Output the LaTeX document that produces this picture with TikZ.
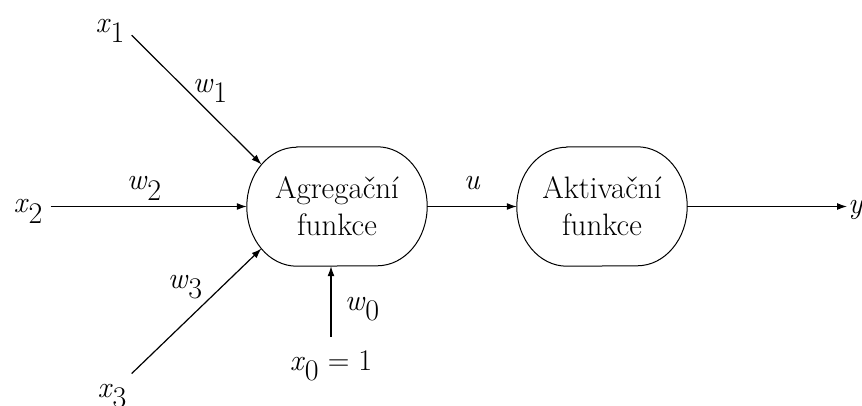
\documentclass[tikz,border=0pt]{standalone}
\usetikzlibrary{arrows.meta,calc}
\newcommand\lbl[2]{\textit{#1}\raisebox{-10pt}{#2}}
\newcommand\drawblob[1]{%
  \draw[blobline] ([xshift=50pt]#1.north west) -- ([xshift=-50pt]#1.north east)
    arc[start angle=90,end angle=-90,x radius=50pt,y radius=59.5pt]
    -- ([xshift=50pt]#1.south west)
    arc[start angle=270,end angle=90,x radius=50pt,y radius=59.5pt] -- cycle;}
\begin{document}
\begin{tikzpicture}[x=1pt,y=-1pt,
  blob/.style={rectangle,inner sep=0pt,minimum height=119pt,align=center,
    font=\fontsize{31pt}{37pt}\selectfont},
  blobline/.style={line width=1pt},
  lab/.style={font=\fontsize{30pt}{38pt}\selectfont,inner sep=2pt,anchor=base},
  conn/.style={line width=1.2pt,-{Latex[length=10pt,width=7pt]}}]
\useasboundingbox[fill=white] (0,0) rectangle (862,406);
\node[blob,minimum width=180pt] (agg) at (337,206.5) {Agregační\\funkce};
\node[blob,minimum width=170pt] (akt) at (602,206.5) {Aktivační\\funkce};
\drawblob{agg}
\drawblob{akt}
\node[lab] (x1) at (110,33) {\lbl{x}{1}};
\node[lab] (w1) at (210,93) {\lbl{w}{1}};
\node[lab] (x2) at (28,213) {\lbl{x}{2}};
\node[lab] (w2) at (144,190) {\lbl{w}{2}};
\node[lab] (w3) at (185,288) {\lbl{w}{3}};
\node[lab] (x3) at (112,397) {\lbl{x}{3}};
\node[lab] (w0) at (362,310) {\lbl{w}{0}};
\node[lab] (x0) at (331,370) {\lbl{x}{0} = 1};
\node[lab] (u) at (472,190) {\textit{u}};
\node[lab,anchor=base west,inner sep=1pt] (y) at (847,214) {\textit{y}};
\coordinate (a1) at ($(agg.west)+(50pt,0)+(135:50pt and 59.5pt)$);
\coordinate (a3) at ($(agg.west)+(50pt,0)+(225:50pt and 59.5pt)$);
\draw[conn] ([xshift=5pt,yshift=10pt]x1.south east) -- (a1);
\draw[conn] ([xshift=6pt]x2.east |- agg.west) -- (agg.west);
\draw[conn] ([xshift=3pt,yshift=8pt]x3.north east) -- (a3);
\draw[conn] ([yshift=11pt]x0.north) -- (x0.north |- agg.south);
\draw[conn] (agg.east) -- (akt.west);
\draw[conn] (akt.east) -- (y.west |- akt.east);
\end{tikzpicture}
\end{document}
